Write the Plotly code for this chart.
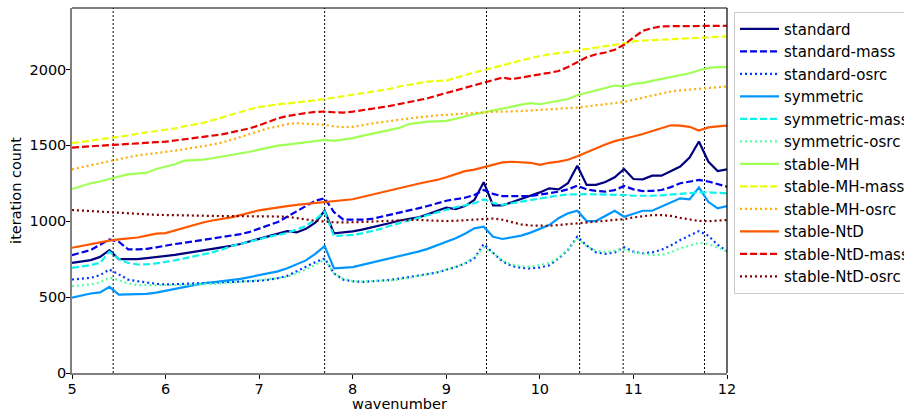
import plotly.graph_objects as go

wavenumber = [round(5 + 0.1 * i, 1) for i in range(71)]

standard = [726, 735, 744, 765, 810, 750, 748, 750, 757, 763, 768, 778, 788, 797, 806, 815, 825, 838, 850, 866,
            884, 900, 918, 935, 926, 950, 990, 1069, 920, 925, 933, 945, 958, 972, 988, 1005, 1015, 1025, 1045, 1065,
            1090, 1080, 1100, 1140, 1257, 1105, 1105, 1125, 1145, 1165, 1190, 1217, 1210, 1250, 1366, 1239, 1240, 1258, 1290, 1344,
            1278, 1276, 1300, 1300, 1330, 1360, 1419, 1525, 1393, 1331, 1342]
standard_mass = [777, 795, 810, 845, 880, 865, 815, 815, 818, 828, 840, 850, 858, 868, 877, 885, 895, 905, 915, 930,
                 950, 970, 995, 1030, 1065, 1105, 1135, 1151, 1060, 1010, 1008, 1010, 1015, 1030, 1042, 1055, 1070, 1085, 1100, 1120,
                 1135, 1145, 1155, 1173, 1206, 1180, 1165, 1165, 1165, 1166, 1175, 1184, 1195, 1210, 1234, 1210, 1200, 1195, 1205, 1232,
                 1210, 1199, 1200, 1206, 1225, 1250, 1262, 1272, 1262, 1245, 1228]
standard_osrc = [616, 622, 627, 645, 682, 650, 615, 605, 595, 588, 583, 585, 587, 589, 590, 594, 597, 600, 603, 605,
                 607, 615, 625, 640, 670, 703, 730, 755, 656, 615, 605, 600, 603, 608, 613, 622, 632, 643, 652, 662,
                 680, 698, 722, 755, 849, 795, 735, 705, 693, 689, 695, 710, 755, 810, 898, 840, 795, 785, 795, 828,
                 800, 788, 795, 812, 840, 876, 905, 935, 905, 845, 802]
symmetric = [497, 512, 524, 531, 568, 517, 518, 519, 521, 530, 542, 555, 568, 580, 590, 597, 603, 610, 620, 632,
             643, 655, 670, 690, 715, 742, 785, 836, 689, 692, 698, 712, 726, 740, 755, 770, 786, 800, 818, 840,
             865, 888, 918, 953, 964, 898, 883, 893, 905, 925, 950, 975, 1020, 1052, 1069, 1001, 1001, 1035, 1069, 1030,
             1050, 1069, 1069, 1095, 1120, 1151, 1144, 1223, 1128, 1085, 1100]
symmetric_mass = [693, 702, 711, 726, 799, 752, 725, 715, 716, 722, 731, 742, 755, 767, 779, 795, 813, 835, 850, 867,
                  885, 897, 910, 922, 945, 970, 1010, 1063, 902, 905, 910, 920, 935, 950, 970, 988, 1005, 1020, 1040, 1058,
                  1078, 1092, 1105, 1118, 1144, 1120, 1108, 1118, 1130, 1142, 1152, 1162, 1170, 1176, 1179, 1178, 1177, 1176, 1175, 1173,
                  1168, 1166, 1168, 1171, 1176, 1183, 1188, 1190, 1190, 1187, 1184]
symmetric_osrc = [572, 578, 583, 597, 630, 612, 590, 579, 578, 579, 579, 580, 581, 582, 583, 586, 590, 594, 600, 606,
                  612, 618, 625, 636, 655, 682, 712, 748, 656, 620, 605, 603, 604, 605, 610, 617, 627, 638, 650, 664,
                  680, 700, 725, 761, 828, 790, 740, 715, 703, 700, 712, 725, 760, 815, 887, 835, 805, 798, 805, 814,
                  795, 785, 778, 778, 795, 821, 840, 858, 850, 825, 802]
stable_MH = [1212, 1232, 1250, 1262, 1280, 1295, 1309, 1315, 1320, 1344, 1358, 1375, 1399, 1402, 1406, 1415, 1425, 1437, 1445, 1458,
             1472, 1485, 1498, 1505, 1512, 1520, 1530, 1536, 1529, 1538, 1548, 1562, 1575, 1590, 1605, 1615, 1640, 1650, 1656, 1658,
             1661, 1675, 1692, 1705, 1717, 1728, 1740, 1755, 1768, 1778, 1771, 1782, 1793, 1805, 1830, 1845, 1858, 1878, 1894, 1888,
             1905, 1912, 1925, 1938, 1950, 1960, 1975, 1995, 2010, 2015, 2015]
stable_MH_mass = [1514, 1522, 1530, 1537, 1545, 1553, 1565, 1577, 1586, 1594, 1602, 1612, 1625, 1635, 1648, 1665, 1683, 1702, 1722, 1738,
                  1752, 1762, 1770, 1776, 1782, 1788, 1797, 1805, 1815, 1825, 1833, 1843, 1853, 1862, 1872, 1888, 1900, 1912, 1920, 1924,
                  1927, 1945, 1965, 1980, 1995, 2012, 2030, 2045, 2060, 2075, 2088, 2100, 2108, 2115, 2122, 2135, 2145, 2155, 2163, 2170,
                  2185, 2190, 2193, 2196, 2200, 2203, 2206, 2210, 2212, 2215, 2218]
stable_MH_osrc = [1342, 1356, 1370, 1383, 1396, 1410, 1422, 1433, 1440, 1448, 1455, 1465, 1475, 1484, 1493, 1505, 1518, 1535, 1555, 1575,
                  1595, 1613, 1625, 1640, 1646, 1643, 1640, 1635, 1625, 1620, 1622, 1635, 1643, 1652, 1662, 1669, 1677, 1685, 1692, 1698,
                  1701, 1706, 1711, 1715, 1719, 1721, 1722, 1723, 1726, 1730, 1733, 1737, 1742, 1746, 1749, 1756, 1764, 1772, 1779, 1786,
                  1800, 1815, 1830, 1844, 1855, 1862, 1867, 1871, 1875, 1882, 1888]
stable_NtD = [825, 838, 850, 860, 872, 880, 887, 893, 905, 918, 922, 940, 958, 975, 992, 1005, 1015, 1025, 1040, 1058,
              1072, 1082, 1093, 1100, 1108, 1114, 1120, 1125, 1132, 1138, 1145, 1160, 1175, 1190, 1205, 1220, 1233, 1247, 1260, 1272,
              1290, 1310, 1330, 1340, 1355, 1370, 1388, 1392, 1387, 1385, 1371, 1385, 1393, 1405, 1428, 1455, 1480, 1505, 1528, 1542,
              1558, 1575, 1595, 1615, 1632, 1630, 1622, 1598, 1618, 1625, 1630]
stable_NtD_mass = [1485, 1490, 1495, 1498, 1502, 1505, 1510, 1515, 1518, 1521, 1524, 1532, 1540, 1548, 1555, 1562, 1572, 1585, 1598, 1612,
                   1632, 1655, 1678, 1693, 1705, 1713, 1720, 1723, 1718, 1716, 1722, 1733, 1742, 1750, 1760, 1772, 1785, 1800, 1810, 1828,
                   1845, 1860, 1878, 1895, 1912, 1930, 1947, 1936, 1948, 1958, 1968, 1978, 1990, 2016, 2050, 2080, 2100, 2112, 2130, 2163,
                   2210, 2255, 2272, 2284, 2285, 2285, 2285, 2285, 2286, 2287, 2288]
stable_NtD_osrc = [1074, 1070, 1066, 1063, 1060, 1056, 1050, 1046, 1043, 1042, 1041, 1039, 1037, 1035, 1034, 1034, 1034, 1034, 1034, 1034,
                   1033, 1032, 1031, 1029, 1022, 1012, 1003, 997, 993, 992, 992, 995, 998, 1001, 1004, 1007, 1008, 1008, 1005, 1002,
                   1001, 1003, 1007, 1011, 1014, 1018, 1010, 992, 979, 972, 970, 970, 975, 980, 986, 992, 998, 1003, 1009, 1014,
                   1025, 1035, 1040, 1041, 1035, 1022, 1010, 1002, 1000, 1002, 1008]

resonances = [5.44, 7.70, 9.43, 10.425, 10.89, 11.76]

series_names = ["standard", "standard-mass", "standard-osrc",
                "symmetric", "symmetric-mass", "symmetric-osrc",
                "stable-MH", "stable-MH-mass", "stable-MH-osrc",
                "stable-NtD", "stable-NtD-mass", "stable-NtD-osrc"]
series_values = [standard, standard_mass, standard_osrc,
                 symmetric, symmetric_mass, symmetric_osrc,
                 stable_MH, stable_MH_mass, stable_MH_osrc,
                 stable_NtD, stable_NtD_mass, stable_NtD_osrc]
colors = ["#000080", "#0000e9", "#003aff", "#0097ff", "#0bf3ec", "#56ffa1",
          "#a1ff56", "#ecff0b", "#ffad00", "#ff5700", "#e90000", "#800000"]
dashes = ["solid", "7px,3px", "2px,3px"] * 4

fig = go.Figure()
for i, (name, vals) in enumerate(zip(series_names, series_values)):
    fig.add_trace(go.Scatter(
        x=wavenumber, y=vals, mode="lines", name=name, legendgroup=name,
        line=dict(color=colors[i], width=2.2, dash=dashes[i]),
    ))

for r in resonances:
    fig.add_shape(type="line", xref="x", yref="paper", x0=r, x1=r, y0=0, y1=1,
                  line=dict(color="black", width=1, dash="2px,2px"), layer="below")

# top and right frame lines
fig.add_shape(type="line", xref="paper", yref="paper", x0=0, x1=1, y0=1, y1=1,
              line=dict(color="black", width=1.2))
fig.add_shape(type="line", xref="paper", yref="paper", x0=1, x1=1, y0=0, y1=1,
              line=dict(color="black", width=1.2))

font = "DejaVu Sans"
fig.update_layout(
    width=904, height=412,
    margin=dict(l=72, r=177, t=8, b=39, autoexpand=False),
    plot_bgcolor="white", paper_bgcolor="white",
    font=dict(family=font, size=14.5, color="black"),
    showlegend=True,
    legend=dict(x=1.0107, y=0.99, xanchor="left", yanchor="top",
                bgcolor="white", bordercolor="#cccccc", borderwidth=1,
                font=dict(family=font, size=15), itemwidth=39,
                tracegroupgap=1.5, traceorder="normal"),
    xaxis=dict(range=[5, 12], tickvals=[5, 6, 7, 8, 9, 10, 11, 12],
               showgrid=False, zeroline=False, showline=True, linecolor="#808080", linewidth=1.5,
               ticks="outside", ticklen=4, tickcolor="black", tickfont=dict(size=14.5),
               ticklabelstandoff=-2,
               title=dict(text="wavenumber", font=dict(size=14.5), standoff=2)),
    yaxis=dict(range=[0, 2405], tickvals=[0, 500, 1000, 1500, 2000],
               showgrid=False, zeroline=False, showline=True, linecolor="#808080", linewidth=1.5,
               ticks="outside", ticklen=4, tickcolor="black", tickfont=dict(size=14.5),
               ticklabelstandoff=-3,
               title=dict(text="iteration count", font=dict(size=14.5), standoff=4)),
)

fig.write_html("out.html")
